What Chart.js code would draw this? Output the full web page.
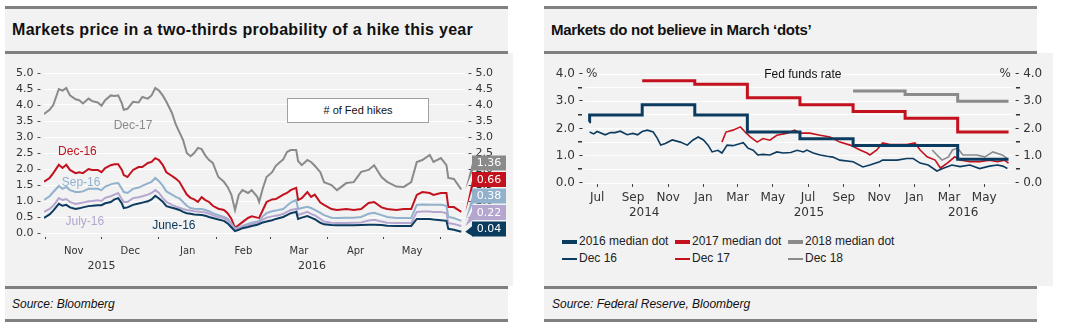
<!DOCTYPE html>
<html>
<head>
<meta charset="utf-8">
<script src="https://cdn.jsdelivr.net/npm/chart.js@4.4.0/dist/chart.umd.min.js"></script>
<style>
  body { margin: 0; background: #fff; width: 1071px; height: 326px; position: relative; overflow: hidden;
         font-family: "Liberation Sans", Arial, sans-serif; color: #111; }
  .bg { position: absolute; background: #f2f2f2; }
  .rule { position: absolute; height: 3px; background: #808080; }
  .title { position: absolute; top: 9px; height: 42px; line-height: 42px; font-size: 16px; font-weight: bold; white-space: nowrap; }
  .source { position: absolute; top: 289px; height: 30px; line-height: 30px; font-size: 12px; font-style: italic; }
  canvas { position: absolute; }
  .hikes { position: absolute; left: 287px; top: 98px; width: 140px; height: 23px; background: #fff;
           border: 1px solid #a0a0a0; font-size: 11px; line-height: 23px; text-align: center; }
  #legend { position: absolute; left: 562px; top: 233px; display: grid; grid-template-columns: 113px 113px 113px;
            font-size: 12px; color: #222; }
  #legend div { height: 17px; line-height: 17px; white-space: nowrap; }
  #legend span { display: inline-block; width: 15px; vertical-align: middle; margin-right: 2px; }
</style>
</head>
<body>
<div class="bg" style="left:5px;top:6px;width:503px;height:315px"></div>
<div class="bg" style="left:5px;top:53px;width:508px;height:233px"></div>
<div class="bg" style="left:544px;top:6px;width:493px;height:315px"></div>
<div class="bg" style="left:544px;top:53px;width:509px;height:233px"></div>

<div class="title" style="left:12px;letter-spacing:0.3px">Markets price in a two-thirds probability of a hike this year</div>
<div class="title" style="left:551px;font-size:15px;letter-spacing:-0.3px">Markets do not believe in March ‘dots’</div>

<canvas id="hikes" width="508" height="233" style="left:5px;top:53px"></canvas>
<canvas id="dots" width="509" height="172" style="left:544px;top:53px"></canvas>
<div class="hikes"># of Fed hikes</div>
<div id="legend"></div>

<div class="rule" style="left:5px;top:6px;width:503px"></div>
<div class="rule" style="left:5px;top:51px;width:503px"></div>
<div class="rule" style="left:5px;top:286px;width:503px"></div>
<div class="rule" style="left:5px;top:319px;width:503px"></div>
<div class="rule" style="left:544px;top:6px;width:493px"></div>
<div class="rule" style="left:544px;top:51px;width:493px"></div>
<div class="rule" style="left:544px;top:286px;width:493px"></div>
<div class="rule" style="left:544px;top:319px;width:493px"></div>

<div class="source" style="left:12px">Source: Bloomberg</div>
<div class="source" style="left:552px">Source: Federal Reserve, Bloomberg</div>

<script>
// ---- left chart: implied number of hikes by contract ----
const hikeDates = [
  '2015-10-31','2015-11-03','2015-11-05','2015-11-08','2015-11-10','2015-11-12','2015-11-14','2015-11-17','2015-11-19','2015-11-21',
  '2015-11-24','2015-11-26','2015-11-29','2015-12-01','2015-12-03','2015-12-06','2015-12-08','2015-12-10','2015-12-12','2015-12-13',
  '2015-12-15','2015-12-18','2015-12-21','2015-12-23','2015-12-26','2015-12-28','2015-12-30','2016-01-01','2016-01-03','2016-01-05',
  '2016-01-08','2016-01-10','2016-01-12','2016-01-14','2016-01-16','2016-01-18','2016-01-20','2016-01-22','2016-01-24','2016-01-26',
  '2016-01-28','2016-01-30','2016-02-02','2016-02-05','2016-02-07','2016-02-09','2016-02-11','2016-02-13','2016-02-15','2016-02-18',
  '2016-02-20','2016-02-23','2016-02-24','2016-02-26','2016-02-28','2016-03-02','2016-03-04','2016-03-06','2016-03-08','2016-03-10',
  '2016-03-12','2016-03-15','2016-03-16','2016-03-18','2016-03-21','2016-03-23','2016-03-25','2016-03-28','2016-03-30','2016-04-03',
  '2016-04-06','2016-04-11','2016-04-15','2016-04-19','2016-04-23','2016-04-26','2016-04-30','2016-05-03','2016-05-08','2016-05-12',
  '2016-05-16','2016-05-19','2016-05-22','2016-05-26','2016-05-28','2016-06-01','2016-06-04','2016-06-05','2016-06-08','2016-06-12'
];
const dec17Hikes = [
  3.72,3.85,4.00,4.50,4.45,4.53,4.30,4.18,4.15,4.05, 4.20,4.12,4.08,3.98,4.15,4.30,4.28,4.30,4.05,3.85,
  3.88,4.10,4.08,4.25,4.20,4.30,4.53,4.45,4.30,4.10, 3.75,3.40,3.15,2.90,2.50,2.40,2.50,2.66,2.62,2.42,
  2.28,2.19,1.75,1.60,1.44,1.20,0.72,1.19,1.34,1.25, 1.34,1.13,0.97,1.40,1.75,1.90,2.10,2.20,2.30,2.53,
  2.59,2.59,2.25,2.12,2.28,2.22,2.10,1.90,1.59,1.50, 1.34,1.56,1.59,1.91,1.97,2.12,1.75,1.60,1.45,1.44,
  1.59,2.22,2.28,2.44,2.22,2.34,2.12,1.72,1.69,1.36
];
const dec16Hikes = [
  1.60,1.72,1.87,2.13,2.03,2.13,1.97,1.87,1.90,1.87, 2.00,1.97,1.97,1.90,2.03,2.12,2.15,2.15,1.97,1.81,
  1.75,1.97,2.06,2.06,2.19,2.22,2.34,2.28,2.13,1.90, 1.78,1.70,1.60,1.40,1.20,1.10,1.05,0.97,1.12,1.03,
  0.97,0.85,0.76,0.72,0.62,0.45,0.16,0.25,0.34,0.47, 0.52,0.48,0.47,0.72,0.97,1.05,1.06,1.13,1.20,1.25,
  1.34,1.41,1.03,1.09,1.28,1.13,1.20,0.95,0.88,0.75, 0.72,0.75,0.72,0.75,0.94,0.97,0.80,0.75,0.72,0.75,
  0.75,1.19,1.28,1.25,1.19,1.25,1.25,0.81,0.81,0.66
];
const sep16Hikes = [
  1.03,1.15,1.28,1.47,1.38,1.44,1.34,1.28,1.28,1.30, 1.38,1.38,1.38,1.34,1.45,1.52,1.55,1.56,1.38,1.28,
  1.25,1.38,1.42,1.47,1.55,1.60,1.72,1.62,1.48,1.30, 1.20,1.13,1.08,0.97,0.85,0.78,0.76,0.75,0.75,0.72,
  0.68,0.62,0.56,0.50,0.45,0.30,0.14,0.17,0.22,0.28, 0.32,0.36,0.38,0.52,0.62,0.68,0.70,0.73,0.75,0.85,
  0.95,1.03,0.75,0.78,0.82,0.78,0.72,0.63,0.56,0.48, 0.47,0.48,0.48,0.50,0.60,0.63,0.56,0.50,0.47,0.47,
  0.47,0.88,0.89,0.88,0.88,0.88,0.85,0.50,0.47,0.38
];
const jul16Hikes = [
  0.66,0.75,0.85,1.09,1.03,1.06,0.97,0.91,0.93,0.95, 0.99,1.00,1.02,1.00,1.10,1.15,1.20,1.25,1.05,0.97,
  0.97,1.09,1.12,1.15,1.20,1.25,1.34,1.25,1.10,0.97, 0.88,0.83,0.79,0.75,0.72,0.70,0.68,0.67,0.66,0.64,
  0.60,0.56,0.50,0.47,0.38,0.22,0.10,0.14,0.20,0.24, 0.28,0.32,0.34,0.42,0.48,0.52,0.54,0.56,0.60,0.66,
  0.72,0.75,0.56,0.60,0.66,0.60,0.55,0.44,0.36,0.32, 0.31,0.31,0.32,0.33,0.39,0.41,0.36,0.32,0.31,0.31,
  0.31,0.66,0.67,0.67,0.66,0.66,0.62,0.31,0.28,0.22
];
const jun16Hikes = [
  0.47,0.58,0.70,0.91,0.85,0.88,0.80,0.75,0.77,0.80, 0.84,0.85,0.87,0.87,0.93,0.97,1.05,1.09,0.92,0.78,
  0.80,0.88,0.92,0.95,0.99,1.05,1.16,1.08,0.98,0.84, 0.79,0.76,0.72,0.66,0.62,0.60,0.58,0.57,0.56,0.54,
  0.50,0.47,0.42,0.38,0.30,0.18,0.06,0.10,0.15,0.19, 0.22,0.26,0.28,0.33,0.36,0.40,0.44,0.47,0.50,0.56,
  0.62,0.66,0.44,0.48,0.53,0.48,0.43,0.32,0.27,0.25, 0.24,0.24,0.24,0.25,0.26,0.26,0.25,0.23,0.22,0.22,
  0.22,0.44,0.44,0.44,0.42,0.40,0.38,0.13,0.10,0.04
];
const hikeLabels = ['Dec-17', 'Dec-16', 'Sep-16', 'July-16', 'June-16'];
// where the contract names sit (date, value)
const hikeTagAt = [['2015-12-18', 3.34], ['2015-11-18', 2.53], ['2015-11-20', 1.56], ['2015-11-22', 0.34], ['2016-01-09', 0.22]];

// ---- right chart: FOMC median dots vs market-implied rates ----
const dot2016Dates = ['2014-06-17','2014-06-18','2014-09-17','2014-12-17','2015-03-18','2015-06-17','2015-09-17','2015-12-16','2016-03-16','2016-06-12'];
const dot2016 = [2.25, 2.5, 2.875, 2.5, 1.875, 1.625, 1.375, 1.375, 0.875, 0.875];
const dot2017Dates = ['2014-09-17','2014-12-17','2015-03-18','2015-06-17','2015-09-17','2015-12-16','2016-03-16','2016-06-12'];
const dot2017 = [3.75, 3.625, 3.125, 2.875, 2.625, 2.375, 1.875, 1.875];
const dot2018Dates = ['2015-09-17','2015-12-16','2016-03-16','2016-06-12'];
const dot2018 = [3.375, 3.25, 3.0, 3.0];

const dec16Dates = [
  '2014-06-18','2014-06-25','2014-07-01','2014-07-15','2014-07-24','2014-08-01','2014-08-10','2014-08-22','2014-09-01','2014-09-09',
  '2014-09-17','2014-09-26','2014-10-06','2014-10-13','2014-10-19','2014-10-27','2014-11-08','2014-11-22','2014-12-04','2014-12-14',
  '2014-12-23','2015-01-01','2015-01-09','2015-01-16','2015-01-26','2015-02-02','2015-02-11','2015-02-21','2015-03-06','2015-03-11',
  '2015-03-19','2015-03-28','2015-04-05','2015-04-14','2015-04-26','2015-05-08','2015-05-19','2015-06-01','2015-06-12','2015-06-23',
  '2015-06-29','2015-07-10','2015-07-22','2015-08-03','2015-08-13','2015-08-25','2015-09-17','2015-10-04','2015-10-16','2015-11-02',
  '2015-11-07','2015-12-02','2015-12-19','2015-12-30','2016-01-11','2016-01-25','2016-02-09','2016-02-19','2016-03-06','2016-03-20',
  '2016-04-06','2016-04-23','2016-05-10','2016-05-24','2016-06-02','2016-06-10'
];
const dec16Rate = [
  1.87,1.80,1.89,1.77,1.85,1.85,1.90,1.77,1.82,1.77, 1.89,1.94,1.87,1.65,1.39,1.45,1.58,1.50,1.39,1.58,
  1.69,1.58,1.39,1.14,1.20,1.10,1.39,1.37,1.45,1.48, 1.28,1.20,1.03,1.05,1.03,1.14,1.10,1.12,1.20,1.14,
  1.21,1.10,1.03,0.98,0.95,0.84,0.78,0.59,0.66,0.78, 0.84,0.84,0.90,0.90,0.73,0.66,0.44,0.53,0.66,0.60,
  0.66,0.53,0.62,0.66,0.62,0.53
];
const dec17Dates = [
  '2015-02-02','2015-02-09','2015-02-21','2015-03-06','2015-03-14','2015-03-23','2015-04-04','2015-04-14','2015-04-26','2015-05-08',
  '2015-05-26','2015-06-08','2015-06-17','2015-07-04','2015-07-22','2015-08-08','2015-08-25','2015-09-12','2015-09-29','2015-10-11',
  '2015-10-16','2015-10-28','2015-11-07','2015-11-20','2015-12-07','2015-12-19','2016-01-02','2016-01-11','2016-01-23','2016-02-06',
  '2016-02-15','2016-02-27','2016-03-11','2016-03-20','2016-04-06','2016-04-23','2016-05-10','2016-05-24','2016-06-05','2016-06-12'
];
const dec17Rate = [
  1.50,1.87,1.94,2.06,1.87,1.69,1.50,1.63,1.57,1.75, 1.83,1.94,1.83,1.83,1.75,1.69,1.50,1.39,1.21,1.10,
  1.03,1.21,1.47,1.41,1.41,1.41,1.47,1.21,0.96,0.84, 0.55,0.73,0.96,0.84,0.78,0.78,0.84,0.78,0.84,0.73
];
const dec18Dates = ['2016-02-01','2016-02-09','2016-02-18','2016-02-29','2016-03-07','2016-03-16','2016-03-25','2016-04-06','2016-04-18','2016-05-02','2016-05-16','2016-06-01','2016-06-09'];
const dec18Rate = [1.21, 1.03, 0.84, 0.96, 1.21, 1.28, 1.03, 1.03, 1.03, 0.96, 1.14, 1.03, 0.91];

const NAVY = '#0c3b60', RED = '#c3121e', GRAY = '#8a8a8a', LBLUE = '#92b1cc', LAV = '#b5a6d0';
const TICK_FONT = 'DejaVu Sans';
const MON = ['Jan','Feb','Mar','Apr','May','Jun','Jul','Aug','Sep','Oct','Nov','Dec'];

const day = s => Date.UTC(+s.slice(0, 4), +s.slice(5, 7) - 1, +s.slice(8, 10)) / 864e5;
const pts = (dates, vals) => dates.map((d, i) => ({ x: day(d), y: vals[i] }));

function monthStarts(from, n, step) {
  const [y0, m0] = from.split('-').map(Number);
  const out = [];
  for (let i = 0; i < n; i++) {
    const m = m0 - 1 + i * step;
    out.push({ v: Date.UTC(y0, m, 1) / 864e5, name: MON[m % 12] });
  }
  return out;
}
function yearMids(min, max) {
  const out = [];
  const y0 = new Date(min * 864e5).getUTCFullYear(), y1 = new Date(max * 864e5).getUTCFullYear();
  for (let y = y0; y <= y1; y++) {
    const a = Math.max(min, Date.UTC(y, 0, 1) / 864e5), b = Math.min(max, Date.UTC(y + 1, 0, 1) / 864e5);
    out.push({ v: (a + b) / 2, name: String(y) });
  }
  return out;
}

// builds a linear time axis with fixed ticks and labels
function dateAxis(list, opts) {
  const labels = new Map(list.filter(t => t.name).map(t => [t.v, t.name]));
  return {
    type: 'linear', position: 'bottom', min: opts.min, max: opts.max,
    afterBuildTicks: s => { s.ticks = list.map(t => ({ value: t.v })); },
    afterFit: s => { s.height = opts.height; },
    border: { display: false },
    grid: {
      display: true, drawOnChartArea: false, drawTicks: opts.ticks,
      tickLength: opts.tickLength || 0, tickBorderDash: opts.dash,
      tickColor: ctx => (ctx.tick && opts.hideLabelled && labels.has(ctx.tick.value)) ? 'rgba(0,0,0,0)' : '#444'
    },
    ticks: {
      autoSkip: false, maxRotation: 0, padding: opts.padding, color: '#333',
      font: { family: TICK_FONT, size: opts.size },
      callback: v => labels.get(v) || ''
    }
  };
}

// value axis with a tick every 0.5
function valueAxis(side, max, width, padding, size, fmt) {
  return {
    position: side, min: 0, max: max,
    afterBuildTicks: s => {
      s.ticks = [];
      for (let v = 0; v <= max; v += 0.5) s.ticks.push({ value: v });
    },
    afterFit: s => { s.width = width; },
    border: { display: false },
    grid: side === 'left' ? { color: '#ffffff', lineWidth: 1, drawTicks: false } : { display: false, drawTicks: false },
    ticks: { autoSkip: false, stepSize: 0.5, maxTicksLimit: 20, padding: padding, color: '#333',
             font: { family: TICK_FONT, size: size, lineHeight: 0.8 }, callback: fmt }
  };
}

// ---------- left chart ----------
const hMin = day('2015-10-31'), hMax = day('2016-06-14');
const starts = monthStarts('2015-11', 8, 1);
const hikeTicks = starts.map(t => ({ v: t.v })).concat(
  starts.slice(0, -1).map((t, i) => ({ v: (t.v + starts[i + 1].v) / 2, name: t.name })));
const hikeSeries = [dec17Hikes, dec16Hikes, sep16Hikes, jul16Hikes, jun16Hikes];
const hikeColors = [GRAY, RED, LBLUE, LAV, NAVY];

const hikeTags = {
  id: 'hikeTags',
  afterDraw(chart) {
    const { ctx, chartArea: area, scales: { x, y } } = chart;
    ctx.save();
    ctx.font = '12px "Liberation Sans"';
    ctx.textAlign = 'center';
    ctx.textBaseline = 'middle';
    hikeTagAt.forEach((p, i) => {
      ctx.fillStyle = hikeColors[i];
      ctx.fillText(hikeLabels[i], x.getPixelForValue(day(p[0])), y.getPixelForValue(p[1]));
    });
    // end-value call-outs, stacked from the bottom upwards
    const ends = hikeSeries.map((vals, i) => {
      const pt = chart.getDatasetMeta(i).data.at(-1);
      return { i, px: pt.x, py: pt.y, val: vals.at(-1) };
    }).sort((a, b) => b.py - a.py);
    let prev = area.bottom + 12.5;
    ends.forEach(e => { e.cy = Math.min(e.py, prev - 16.5, area.bottom - 4); prev = e.cy; });
    const bx = area.right + 7, bw = 34, bh = 15;
    ctx.font = '11px "DejaVu Sans"';
    ends.slice().reverse().forEach(e => {
      const top = e.cy - bh / 2;
      ctx.fillStyle = hikeColors[e.i];
      ctx.beginPath();
      ctx.moveTo(bx + 1, top + 4);
      ctx.lineTo(bx + 1, top + bh);
      ctx.lineTo(e.px + 4, e.py);
      ctx.closePath();
      ctx.fill();
      ctx.fillRect(bx, top, bw, bh);
      ctx.fillStyle = '#fff';
      ctx.fillText(e.val.toFixed(2), bx + bw / 2, e.cy + 0.5);
    });
    ctx.restore();
  }
};

new Chart(document.getElementById('hikes'), {
  type: 'line',
  data: {
    datasets: hikeSeries.map((vals, i) => ({
      label: hikeLabels[i], data: pts(hikeDates, vals),
      borderColor: hikeColors[i], borderWidth: 2, pointRadius: 0, tension: 0, yAxisID: 'y',
      order: hikeSeries.length - 1 - i   // navy (June-16) drawn last, on top
    }))
  },
  options: {
    responsive: false, animation: false, parsing: false,
    layout: { padding: { top: 20, bottom: 13, left: 0, right: 0 } },
    plugins: { legend: { display: false }, tooltip: { enabled: false } },
    scales: {
      x: dateAxis(hikeTicks, { min: hMin, max: hMax, height: 25, ticks: true, tickLength: 6, dash: [0, 4, 2, 10],
                               hideLabelled: true, padding: 6, size: 10 }),
      years: dateAxis(yearMids(hMin, hMax), { min: hMin, max: hMax, height: 15, ticks: false, padding: 2, size: 11 }),
      y: valueAxis('left', 5, 39, 3, 11, v => v.toFixed(1) + ' -'),
      y2: valueAxis('right', 5, 48, 3, 11, v => '- ' + v.toFixed(1))
    }
  },
  plugins: [hikeTags]
});

// ---------- right chart ----------
const dMin = day('2014-06-10'), dMax = day('2016-06-18');
const dotSets = [
  { label: '2016 median dot', data: pts(dot2016Dates, dot2016), color: NAVY, w: 3, step: true },
  { label: '2017 median dot', data: pts(dot2017Dates, dot2017), color: RED, w: 3, step: true },
  { label: '2018 median dot', data: pts(dot2018Dates, dot2018), color: GRAY, w: 3, step: true },
  { label: 'Dec 16', data: pts(dec16Dates, dec16Rate), color: NAVY, w: 1.6, step: false },
  { label: 'Dec 17', data: pts(dec17Dates, dec17Rate), color: RED, w: 1.6, step: false },
  { label: 'Dec 18', data: pts(dec18Dates, dec18Rate), color: GRAY, w: 1.6, step: false }
];

const dotNotes = {
  id: 'dotNotes',
  afterDraw(chart) {
    const { ctx, chartArea: area, scales: { x, y } } = chart;
    ctx.save();
    ctx.fillStyle = '#333';
    // minor tick dashes at the half-points on both value axes
    for (let v = 0.5; v < 4; v += 1) {
      const py = Math.round(y.getPixelForValue(v));
      ctx.fillRect(area.left - 7, py - 1, 4, 1.5);
      ctx.fillRect(area.right + 4, py - 1, 4, 1.5);
    }
    ctx.textBaseline = 'middle';
    ctx.font = '12px "DejaVu Sans"';
    const top = y.getPixelForValue(4);
    ctx.textAlign = 'left';
    ctx.fillText('%', area.left + 1, top);
    ctx.textAlign = 'right';
    ctx.fillText('%', area.right - 1, top);
    ctx.fillStyle = '#111';
    ctx.font = '12px "Liberation Sans"';
    ctx.textAlign = 'center';
    ctx.fillText('Fed funds rate', x.getPixelForValue(day('2015-06-22')), y.getPixelForValue(3.96));
    ctx.restore();
  }
};

new Chart(document.getElementById('dots'), {
  type: 'line',
  data: {
    datasets: dotSets.map(s => ({
      label: s.label, data: s.data, borderColor: s.color, borderWidth: s.w,
      stepped: s.step ? 'before' : false, pointRadius: 0, tension: 0, yAxisID: 'y'
    }))
  },
  options: {
    responsive: false, animation: false, parsing: false,
    layout: { padding: { top: 21, bottom: 4, left: 0, right: 0 } },
    plugins: { legend: { display: false }, tooltip: { enabled: false } },
    scales: {
      x: dateAxis(monthStarts('2014-07', 12, 2), { min: dMin, max: dMax, height: 22, ticks: true, tickLength: 5,
                                                  dash: [0, 1, 3, 10], padding: 3, size: 12 }),
      years: dateAxis(yearMids(dMin, dMax), { min: dMin, max: dMax, height: 16, ticks: false, padding: 1, size: 12 }),
      y: valueAxis('left', 4, 41, 2, 12, v => Number.isInteger(v) ? v.toFixed(1) + ' -' : ''),
      y2: valueAxis('right', 4, 41, 3, 12, v => Number.isInteger(v) ? '- ' + v.toFixed(1) : '')
    }
  },
  plugins: [dotNotes]
});

// legend in three aligned columns
document.getElementById('legend').innerHTML = dotSets.map(s =>
  `<div><span style="height:${s.step ? 4 : 2}px;background:${s.color}"></span>${s.label}</div>`).join('');
</script>
</body>
</html>
